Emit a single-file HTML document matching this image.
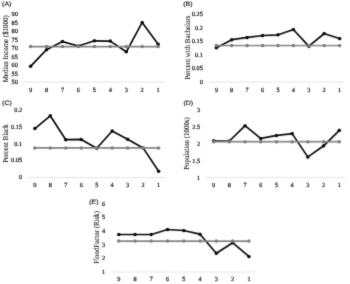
<!DOCTYPE html>
<html><head><meta charset="utf-8"><title>chart</title>
<style>
html,body{margin:0;padding:0;background:#fff;}
body{width:350px;height:284px;overflow:hidden;font-family:"Liberation Serif",serif;}
svg{display:block}
text{text-rendering:geometricPrecision}
.t{stroke:#000;stroke-width:0.16px}
.y{stroke:#1c1c1c;stroke-width:0.08px}
.l{stroke:#111;stroke-width:0.16px}
.t{font-family:"Liberation Serif",serif;font-size:6.4px;fill:#000}
.l{font-family:"Liberation Sans",sans-serif;font-size:7px;fill:#111}
.y{font-family:"Liberation Serif",serif;font-size:6.9px;fill:#1c1c1c}
</style></head><body>
<svg width="350" height="284" viewBox="0 0 350 284">
<rect width="350" height="284" fill="#fff"/>
<defs><filter id="soft" x="0" y="0" width="100%" height="100%" filterUnits="userSpaceOnUse" primitiveUnits="userSpaceOnUse" color-interpolation-filters="sRGB"><feConvolveMatrix order="3" kernelMatrix="0.02 0.06 0.02 0.06 0.68 0.06 0.02 0.06 0.02" divisor="1" edgeMode="duplicate" preserveAlpha="false"/></filter></defs>
<g id="all" filter="url(#soft)" transform="rotate(0.02)">

<g>
<text class="l" transform="translate(2.1 5.9) scale(1 0.9)">(A)</text>
<text class="t" x="17.9" y="16.4" text-anchor="end">90</text>
<text class="t" x="17.9" y="24.9" text-anchor="end">85</text>
<text class="t" x="17.9" y="33.3" text-anchor="end">80</text>
<text class="t" x="17.9" y="41.8" text-anchor="end">75</text>
<text class="t" x="17.9" y="50.2" text-anchor="end">70</text>
<text class="t" x="17.9" y="58.6" text-anchor="end">65</text>
<text class="t" x="17.9" y="67.1" text-anchor="end">60</text>
<text class="t" x="17.9" y="75.5" text-anchor="end">55</text>
<text class="t" x="17.9" y="84.0" text-anchor="end">50</text>
<line x1="22.2" y1="82.0" x2="166.0" y2="82.0" stroke="#d4d4d4" stroke-width="0.6"/>
<text class="t" x="30.6" y="91.6" text-anchor="middle">9</text>
<text class="t" x="46.5" y="91.6" text-anchor="middle">8</text>
<text class="t" x="62.5" y="91.6" text-anchor="middle">7</text>
<text class="t" x="78.4" y="91.6" text-anchor="middle">6</text>
<text class="t" x="94.4" y="91.6" text-anchor="middle">5</text>
<text class="t" x="110.3" y="91.6" text-anchor="middle">4</text>
<text class="t" x="126.3" y="91.6" text-anchor="middle">3</text>
<text class="t" x="142.2" y="91.6" text-anchor="middle">2</text>
<text class="t" x="158.2" y="91.6" text-anchor="middle">1</text>
<text class="y" transform="translate(8.0 48.8) scale(1.1 1) rotate(-90)" text-anchor="middle">Median Income ($1000)</text>
<polyline points="30.6,66.3 46.5,49.7 62.5,41.6 78.4,46.0 94.4,40.8 110.3,41.1 126.3,51.8 142.2,22.4 158.2,44.2" fill="none" stroke="#0a0a0a" stroke-width="1.7" stroke-linejoin="round" stroke-linecap="round"/>
<circle cx="30.6" cy="66.3" r="1.75" fill="#0a0a0a"/>
<circle cx="46.5" cy="49.7" r="1.75" fill="#0a0a0a"/>
<circle cx="62.5" cy="41.6" r="1.75" fill="#0a0a0a"/>
<circle cx="78.4" cy="46.0" r="1.75" fill="#0a0a0a"/>
<circle cx="94.4" cy="40.8" r="1.75" fill="#0a0a0a"/>
<circle cx="110.3" cy="41.1" r="1.75" fill="#0a0a0a"/>
<circle cx="126.3" cy="51.8" r="1.75" fill="#0a0a0a"/>
<circle cx="142.2" cy="22.4" r="1.75" fill="#0a0a0a"/>
<circle cx="158.2" cy="44.2" r="1.75" fill="#0a0a0a"/>
<line x1="30.6" y1="46.6" x2="158.2" y2="46.6" stroke="#868686" stroke-width="1.7"/>
<circle cx="30.6" cy="46.6" r="1.75" fill="#7d7d7d"/>
<circle cx="46.5" cy="46.6" r="1.75" fill="#7d7d7d"/>
<circle cx="62.5" cy="46.6" r="1.75" fill="#7d7d7d"/>
<circle cx="78.4" cy="46.6" r="1.75" fill="#7d7d7d"/>
<circle cx="94.4" cy="46.6" r="1.75" fill="#7d7d7d"/>
<circle cx="110.3" cy="46.6" r="1.75" fill="#7d7d7d"/>
<circle cx="126.3" cy="46.6" r="1.75" fill="#7d7d7d"/>
<circle cx="142.2" cy="46.6" r="1.75" fill="#7d7d7d"/>
<circle cx="158.2" cy="46.6" r="1.75" fill="#7d7d7d"/>
</g>
<g>
<text class="l" transform="translate(183.2 6.0) scale(1 0.9)">(B)</text>
<text class="t" x="203.0" y="16.4" text-anchor="end">0.25</text>
<text class="t" x="203.0" y="29.9" text-anchor="end">0.2</text>
<text class="t" x="203.0" y="43.3" text-anchor="end">0.15</text>
<text class="t" x="203.0" y="56.8" text-anchor="end">0.1</text>
<text class="t" x="203.0" y="70.2" text-anchor="end">0.05</text>
<text class="t" x="203.0" y="83.7" text-anchor="end">0</text>
<line x1="208.5" y1="82.0" x2="345.0" y2="82.0" stroke="#d4d4d4" stroke-width="0.6"/>
<text class="t" x="216.3" y="91.6" text-anchor="middle">9</text>
<text class="t" x="231.7" y="91.6" text-anchor="middle">8</text>
<text class="t" x="247.1" y="91.6" text-anchor="middle">7</text>
<text class="t" x="262.6" y="91.6" text-anchor="middle">6</text>
<text class="t" x="278.0" y="91.6" text-anchor="middle">5</text>
<text class="t" x="293.4" y="91.6" text-anchor="middle">4</text>
<text class="t" x="308.8" y="91.6" text-anchor="middle">3</text>
<text class="t" x="324.2" y="91.6" text-anchor="middle">2</text>
<text class="t" x="339.7" y="91.6" text-anchor="middle">1</text>
<text class="y" transform="translate(189.9 47.6) scale(1.1 1) rotate(-90)" text-anchor="middle">Percent with Bachelors</text>
<polyline points="216.3,47.7 231.7,39.7 247.1,37.4 262.6,35.5 278.0,34.8 293.4,29.5 308.8,46.2 324.2,33.5 339.7,38.5" fill="none" stroke="#0a0a0a" stroke-width="1.7" stroke-linejoin="round" stroke-linecap="round"/>
<circle cx="216.3" cy="47.7" r="1.75" fill="#0a0a0a"/>
<circle cx="231.7" cy="39.7" r="1.75" fill="#0a0a0a"/>
<circle cx="247.1" cy="37.4" r="1.75" fill="#0a0a0a"/>
<circle cx="262.6" cy="35.5" r="1.75" fill="#0a0a0a"/>
<circle cx="278.0" cy="34.8" r="1.75" fill="#0a0a0a"/>
<circle cx="293.4" cy="29.5" r="1.75" fill="#0a0a0a"/>
<circle cx="308.8" cy="46.2" r="1.75" fill="#0a0a0a"/>
<circle cx="324.2" cy="33.5" r="1.75" fill="#0a0a0a"/>
<circle cx="339.7" cy="38.5" r="1.75" fill="#0a0a0a"/>
<line x1="216.3" y1="45.5" x2="339.7" y2="45.5" stroke="#868686" stroke-width="1.7"/>
<circle cx="216.3" cy="45.5" r="1.75" fill="#7d7d7d"/>
<circle cx="231.7" cy="45.5" r="1.75" fill="#7d7d7d"/>
<circle cx="247.1" cy="45.5" r="1.75" fill="#7d7d7d"/>
<circle cx="262.6" cy="45.5" r="1.75" fill="#7d7d7d"/>
<circle cx="278.0" cy="45.5" r="1.75" fill="#7d7d7d"/>
<circle cx="293.4" cy="45.5" r="1.75" fill="#7d7d7d"/>
<circle cx="308.8" cy="45.5" r="1.75" fill="#7d7d7d"/>
<circle cx="324.2" cy="45.5" r="1.75" fill="#7d7d7d"/>
<circle cx="339.7" cy="45.5" r="1.75" fill="#7d7d7d"/>
</g>
<g>
<text class="l" transform="translate(2.1 105.2) scale(1 0.9)">(C)</text>
<text class="t" x="22.2" y="112.2" text-anchor="end">0.2</text>
<text class="t" x="22.2" y="128.9" text-anchor="end">0.15</text>
<text class="t" x="22.2" y="145.6" text-anchor="end">0.1</text>
<text class="t" x="22.2" y="162.2" text-anchor="end">0.05</text>
<text class="t" x="22.2" y="179.4" text-anchor="end">0</text>
<line x1="27.3" y1="177.5" x2="166.0" y2="177.5" stroke="#d4d4d4" stroke-width="0.6"/>
<text class="t" x="34.9" y="186.5" text-anchor="middle">9</text>
<text class="t" x="50.3" y="186.5" text-anchor="middle">8</text>
<text class="t" x="65.8" y="186.5" text-anchor="middle">7</text>
<text class="t" x="81.3" y="186.5" text-anchor="middle">6</text>
<text class="t" x="96.8" y="186.5" text-anchor="middle">5</text>
<text class="t" x="112.2" y="186.5" text-anchor="middle">4</text>
<text class="t" x="127.7" y="186.5" text-anchor="middle">3</text>
<text class="t" x="143.2" y="186.5" text-anchor="middle">2</text>
<text class="t" x="158.7" y="186.5" text-anchor="middle">1</text>
<text class="y" transform="translate(8.0 143.6) scale(1.1 1) rotate(-90)" text-anchor="middle">Percent Black</text>
<polyline points="34.9,128.6 50.3,115.8 65.8,139.7 81.3,139.4 96.8,148.3 112.2,131.0 127.7,139.2 143.2,147.9 158.7,171.3" fill="none" stroke="#0a0a0a" stroke-width="1.7" stroke-linejoin="round" stroke-linecap="round"/>
<circle cx="34.9" cy="128.6" r="1.75" fill="#0a0a0a"/>
<circle cx="50.3" cy="115.8" r="1.75" fill="#0a0a0a"/>
<circle cx="65.8" cy="139.7" r="1.75" fill="#0a0a0a"/>
<circle cx="81.3" cy="139.4" r="1.75" fill="#0a0a0a"/>
<circle cx="96.8" cy="148.3" r="1.75" fill="#0a0a0a"/>
<circle cx="112.2" cy="131.0" r="1.75" fill="#0a0a0a"/>
<circle cx="127.7" cy="139.2" r="1.75" fill="#0a0a0a"/>
<circle cx="143.2" cy="147.9" r="1.75" fill="#0a0a0a"/>
<circle cx="158.7" cy="171.3" r="1.75" fill="#0a0a0a"/>
<line x1="34.9" y1="147.9" x2="158.7" y2="147.9" stroke="#868686" stroke-width="1.7"/>
<circle cx="34.9" cy="147.9" r="1.75" fill="#7d7d7d"/>
<circle cx="50.3" cy="147.9" r="1.75" fill="#7d7d7d"/>
<circle cx="65.8" cy="147.9" r="1.75" fill="#7d7d7d"/>
<circle cx="81.3" cy="147.9" r="1.75" fill="#7d7d7d"/>
<circle cx="96.8" cy="147.9" r="1.75" fill="#7d7d7d"/>
<circle cx="112.2" cy="147.9" r="1.75" fill="#7d7d7d"/>
<circle cx="127.7" cy="147.9" r="1.75" fill="#7d7d7d"/>
<circle cx="143.2" cy="147.9" r="1.75" fill="#7d7d7d"/>
<circle cx="158.7" cy="147.9" r="1.75" fill="#7d7d7d"/>
</g>
<g>
<text class="l" transform="translate(183.4 105.0) scale(1 0.9)">(D)</text>
<text class="t" x="200.2" y="112.3" text-anchor="end">3</text>
<text class="t" x="200.2" y="129.1" text-anchor="end">2.5</text>
<text class="t" x="200.2" y="145.9" text-anchor="end">2</text>
<text class="t" x="200.2" y="162.7" text-anchor="end">1.5</text>
<text class="t" x="200.2" y="179.5" text-anchor="end">1</text>
<line x1="205.3" y1="177.5" x2="345.0" y2="177.5" stroke="#d4d4d4" stroke-width="0.6"/>
<text class="t" x="213.7" y="186.8" text-anchor="middle">9</text>
<text class="t" x="229.4" y="186.8" text-anchor="middle">8</text>
<text class="t" x="245.1" y="186.8" text-anchor="middle">7</text>
<text class="t" x="260.8" y="186.8" text-anchor="middle">6</text>
<text class="t" x="276.5" y="186.8" text-anchor="middle">5</text>
<text class="t" x="292.2" y="186.8" text-anchor="middle">4</text>
<text class="t" x="307.9" y="186.8" text-anchor="middle">3</text>
<text class="t" x="323.6" y="186.8" text-anchor="middle">2</text>
<text class="t" x="339.3" y="186.8" text-anchor="middle">1</text>
<text class="y" transform="translate(188.8 143.5) scale(1.1 1) rotate(-90)" text-anchor="middle">Population (1000s)</text>
<polyline points="213.7,140.8 229.4,141.0 245.1,125.7 260.8,138.4 276.5,135.4 292.2,133.6 307.9,156.9 323.6,145.8 339.3,130.3" fill="none" stroke="#0a0a0a" stroke-width="1.7" stroke-linejoin="round" stroke-linecap="round"/>
<circle cx="213.7" cy="140.8" r="1.75" fill="#0a0a0a"/>
<circle cx="229.4" cy="141.0" r="1.75" fill="#0a0a0a"/>
<circle cx="245.1" cy="125.7" r="1.75" fill="#0a0a0a"/>
<circle cx="260.8" cy="138.4" r="1.75" fill="#0a0a0a"/>
<circle cx="276.5" cy="135.4" r="1.75" fill="#0a0a0a"/>
<circle cx="292.2" cy="133.6" r="1.75" fill="#0a0a0a"/>
<circle cx="307.9" cy="156.9" r="1.75" fill="#0a0a0a"/>
<circle cx="323.6" cy="145.8" r="1.75" fill="#0a0a0a"/>
<circle cx="339.3" cy="130.3" r="1.75" fill="#0a0a0a"/>
<line x1="213.7" y1="141.7" x2="339.3" y2="141.7" stroke="#868686" stroke-width="1.7"/>
<circle cx="213.7" cy="141.7" r="1.75" fill="#7d7d7d"/>
<circle cx="229.4" cy="141.7" r="1.75" fill="#7d7d7d"/>
<circle cx="245.1" cy="141.7" r="1.75" fill="#7d7d7d"/>
<circle cx="260.8" cy="141.7" r="1.75" fill="#7d7d7d"/>
<circle cx="276.5" cy="141.7" r="1.75" fill="#7d7d7d"/>
<circle cx="292.2" cy="141.7" r="1.75" fill="#7d7d7d"/>
<circle cx="307.9" cy="141.7" r="1.75" fill="#7d7d7d"/>
<circle cx="323.6" cy="141.7" r="1.75" fill="#7d7d7d"/>
<circle cx="339.3" cy="141.7" r="1.75" fill="#7d7d7d"/>
</g>
<g>
<text class="l" transform="translate(89.2 203.8) scale(1 0.9)">(E)</text>
<text class="t" x="105.2" y="205.8" text-anchor="end">6</text>
<text class="t" x="105.2" y="219.4" text-anchor="end">5</text>
<text class="t" x="105.2" y="233.1" text-anchor="end">4</text>
<text class="t" x="105.2" y="246.7" text-anchor="end">3</text>
<text class="t" x="105.2" y="260.4" text-anchor="end">2</text>
<text class="t" x="105.2" y="274.0" text-anchor="end">1</text>
<line x1="111.0" y1="272.0" x2="257.0" y2="272.0" stroke="#d4d4d4" stroke-width="0.6"/>
<text class="t" x="118.8" y="281.3" text-anchor="middle">9</text>
<text class="t" x="135.1" y="281.3" text-anchor="middle">8</text>
<text class="t" x="151.3" y="281.3" text-anchor="middle">7</text>
<text class="t" x="167.6" y="281.3" text-anchor="middle">6</text>
<text class="t" x="183.9" y="281.3" text-anchor="middle">5</text>
<text class="t" x="200.1" y="281.3" text-anchor="middle">4</text>
<text class="t" x="216.4" y="281.3" text-anchor="middle">3</text>
<text class="t" x="232.7" y="281.3" text-anchor="middle">2</text>
<text class="t" x="249.0" y="281.3" text-anchor="middle">1</text>
<text class="y" transform="translate(98.6 237.4) scale(1.1 1) rotate(-90)" text-anchor="middle">FloodFactor (Risk)</text>
<polyline points="118.8,234.5 135.1,234.5 151.3,234.5 167.6,229.5 183.9,230.5 200.1,234.2 216.4,253.2 232.7,242.7 249.0,256.4" fill="none" stroke="#0a0a0a" stroke-width="1.7" stroke-linejoin="round" stroke-linecap="round"/>
<circle cx="118.8" cy="234.5" r="1.75" fill="#0a0a0a"/>
<circle cx="135.1" cy="234.5" r="1.75" fill="#0a0a0a"/>
<circle cx="151.3" cy="234.5" r="1.75" fill="#0a0a0a"/>
<circle cx="167.6" cy="229.5" r="1.75" fill="#0a0a0a"/>
<circle cx="183.9" cy="230.5" r="1.75" fill="#0a0a0a"/>
<circle cx="200.1" cy="234.2" r="1.75" fill="#0a0a0a"/>
<circle cx="216.4" cy="253.2" r="1.75" fill="#0a0a0a"/>
<circle cx="232.7" cy="242.7" r="1.75" fill="#0a0a0a"/>
<circle cx="249.0" cy="256.4" r="1.75" fill="#0a0a0a"/>
<line x1="118.8" y1="241.1" x2="249.0" y2="241.1" stroke="#868686" stroke-width="1.7"/>
<circle cx="118.8" cy="241.1" r="1.75" fill="#7d7d7d"/>
<circle cx="135.1" cy="241.1" r="1.75" fill="#7d7d7d"/>
<circle cx="151.3" cy="241.1" r="1.75" fill="#7d7d7d"/>
<circle cx="167.6" cy="241.1" r="1.75" fill="#7d7d7d"/>
<circle cx="183.9" cy="241.1" r="1.75" fill="#7d7d7d"/>
<circle cx="200.1" cy="241.1" r="1.75" fill="#7d7d7d"/>
<circle cx="216.4" cy="241.1" r="1.75" fill="#7d7d7d"/>
<circle cx="232.7" cy="241.1" r="1.75" fill="#7d7d7d"/>
<circle cx="249.0" cy="241.1" r="1.75" fill="#7d7d7d"/>
</g>
</g>
</svg></body></html>
